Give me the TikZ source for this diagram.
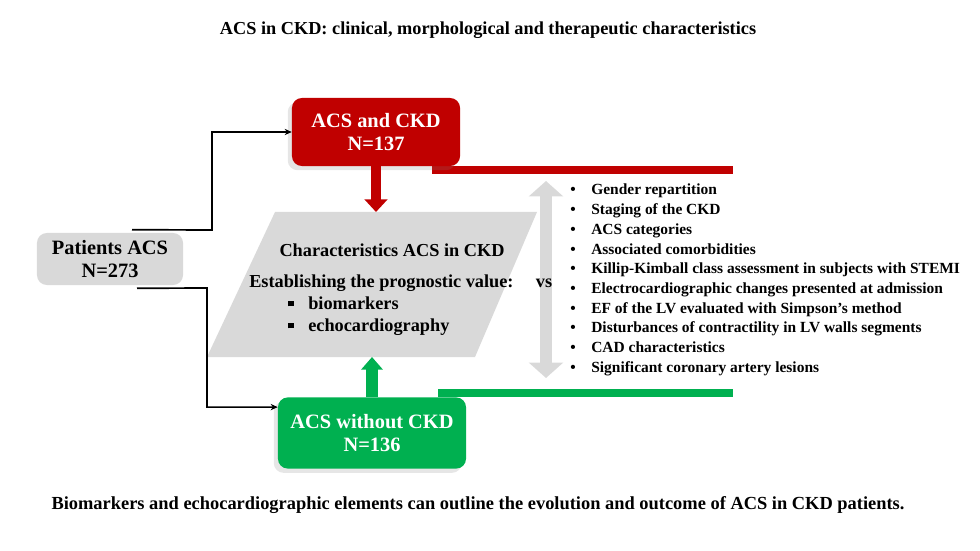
\documentclass[tikz,border=0pt]{standalone}
\usepackage{fontspec}
\setmainfont{Liberation Serif}
\usepackage{xcolor}
\definecolor{ckdRed}     {HTML}{C00000}
\definecolor{noCkdGreen} {HTML}{00B050}
\definecolor{panelGray}  {HTML}{D9D9D9}
\usetikzlibrary{arrows.meta, positioning, calc, shadows}

\tikzset{
  groupbox/.style={rounded corners=7pt, align=center, inner sep=0pt,
    font=\fontsize{14.5}{16.5}\selectfont\bfseries},
  conn/.style={line width=1.2pt, -{Stealth[length=5pt,width=4.5pt]}},
  chartext/.style={inner sep=0pt, font=\fontsize{13}{15}\selectfont\bfseries},
  itemtext/.style={inner sep=0pt, font=\fontsize{11}{13}\selectfont\bfseries},
  softshadow/.style={drop shadow={opacity=0.2, shadow xshift=-3pt, shadow yshift=-3pt}},
}

\begin{document}
\begin{tikzpicture}[x=0.025cm, y=-0.025cm]
    \useasboundingbox (0,0) rectangle (980,551);

    % Title and closing remark.
    \node[font=\fontsize{13}{15}\selectfont\bfseries] (title) at (488,30)
        {ACS in CKD: clinical, morphological and therapeutic characteristics};
    \node[font=\fontsize{13.1}{15}\selectfont\bfseries] (outcome) at (478,505)
        {Biomarkers and echocardiographic elements can outline the evolution and outcome of ACS in CKD patients.};

    % Central panel (parallelogram).
    \fill[panelGray] (275,212) -- (537,212) -- (475,357) -- (207,357) -- cycle;
    \coordinate (charTop) at (376,212);
    \coordinate (charBot) at (378,357);

    % Comparison arrow, under the panel texts.
    \coordinate (vsTop) at (546,181);
    \coordinate (vsBot) at (546,378);
    \draw[panelGray, line width=9pt, {Triangle[length=11pt,width=24pt]}-{Triangle[length=11pt,width=24pt]}] (vsTop) -- (vsBot);

    \node[chartext] (charTitle) at (392,250) {Characteristics ACS in CKD};
    \node[chartext, anchor=west] (progLabel) at (249,283) {Establishing the prognostic value:};
    \node[chartext] (vsLabel) at (544,283) {vs};
    \foreach \txt [count=\k] in {biomarkers, echocardiography} {
        \node[inner sep=0pt, anchor=base] (sq\k) at (291,287+22*\k) {\rule[1.8pt]{4pt}{4pt}};
        \node[chartext, anchor=base west] (prog\k) at (308,287+22*\k) {\txt};
    }

    % Coloured bars under the two groups.
    \coordinate (redEnd) at (733,170);
    \coordinate (greenEnd) at (733,393);
    \draw[ckdRed, line width=5.7pt] (432,170) -- (redEnd);
    \draw[noCkdGreen, line width=5.7pt] (438,393) -- (greenEnd);

    % Study groups.
    \node[groupbox, fill=panelGray, minimum width=3.65cm, minimum height=1.3cm]
        (pat) at (110,259) {Patients ACS\\N=273};
    \node[groupbox, fill=ckdRed, text=white, minimum width=4.2cm, minimum height=1.7cm, softshadow]
        (red) at (376,132) {ACS and CKD\\N=137};
    \node[groupbox, fill=noCkdGreen, text=white, minimum width=4.7cm, minimum height=1.78cm, softshadow]
        (green) at (372,433) {ACS without CKD\\N=136};

    % Split of the cohort.
    \draw[conn] ($(pat.north)+(22,-3)$) -- (212,230) |- (red.west);
    \draw[conn] ($(pat.south)+(27,3)$) -- (207,288) |- ($(green.north west)+(0,10)$);

    % Block arrows into the panel.
    \draw[ckdRed, line width=7pt, -{Triangle[length=9pt,width=16pt]}] (red.south) -- (charTop);
    \draw[noCkdGreen, line width=8pt, -{Triangle[length=9pt,width=15pt]}] (green.north) -- (green.north |- charBot);

    % Compared items.
    \foreach \txt [count=\k] in {Gender repartition, Staging of the CKD, ACS categories,
        Associated comorbidities, Killip-Kimball class assessment in subjects with STEMI,
        Electrocardiographic changes presented at admission,
        EF of the LV evaluated with Simpson’s method,
        Disturbances of contractility in LV walls segments,
        CAD characteristics, Significant coronary artery lesions} {
        \node[itemtext, anchor=base] (dot\k) at (573,195+19.67*\k-19.67) {\textbullet};
        \node[itemtext, anchor=base west] (item\k) at (591,195+19.67*\k-19.67) {\txt};
    }
\end{tikzpicture}
\end{document}
